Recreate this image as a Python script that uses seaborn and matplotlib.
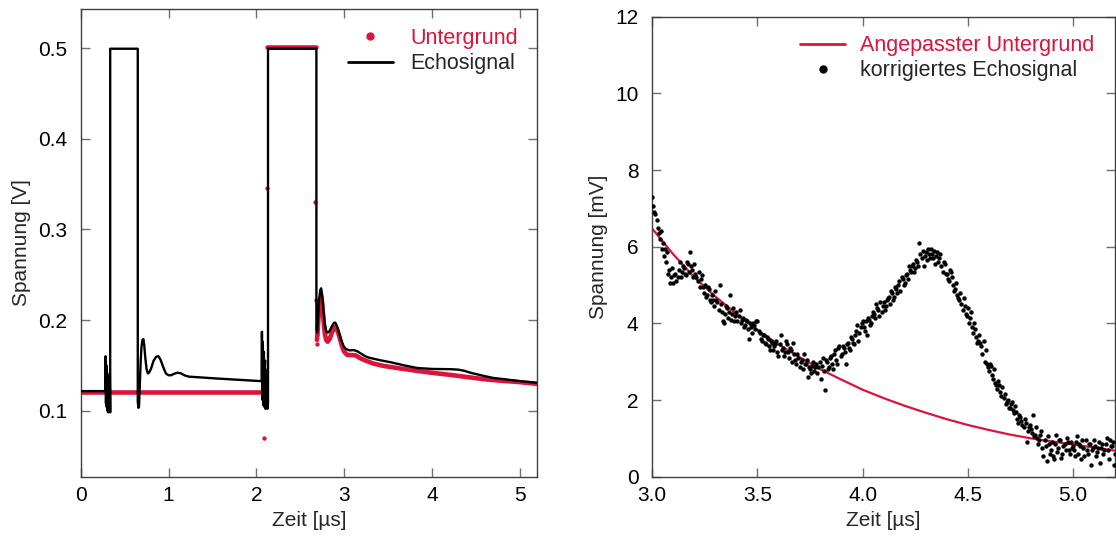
import numpy as np
import pandas as pd
import matplotlib
matplotlib.use("Agg")
import matplotlib.pyplot as plt
from matplotlib.lines import Line2D
import seaborn as sns

# ---------------- data: left panel ----------------
echo_t = [0.000, 0.280, 0.284, 0.288, 0.292, 0.296, 0.300, 0.304, 0.308, 0.312,
          0.316, 0.320, 0.324, 0.328, 0.332, 0.336, 0.336, 0.650, 0.650, 0.658,
          0.664, 0.672, 0.682, 0.692, 0.703, 0.714, 0.724, 0.736, 0.750, 0.765,
          0.780, 0.800, 0.830, 0.860, 0.886, 0.910, 0.940, 0.970, 1.000, 1.030,
          1.060, 1.100, 1.140, 1.180, 1.230, 1.570, 2.060, 2.064, 2.068, 2.074,
          2.080, 2.086, 2.092, 2.098, 2.104, 2.110, 2.116, 2.122, 2.128, 2.133,
          2.133, 2.684, 2.684, 2.692, 2.702, 2.715, 2.728, 2.738, 2.750, 2.765,
          2.780, 2.795, 2.813, 2.835, 2.860, 2.885, 2.900, 2.920, 2.945, 2.970,
          2.995, 3.020, 3.060, 3.110, 3.150, 3.190, 3.240, 3.280, 3.400, 3.528,
          3.680, 3.833, 4.000, 4.213, 4.300, 4.365, 4.450, 4.590, 4.700, 4.820,
          5.000, 5.200]
echo_v = [0.1215, 0.1215, 0.160, 0.108, 0.150, 0.104, 0.142, 0.100, 0.135, 0.098,
          0.130, 0.100, 0.125, 0.105, 0.140, 0.098, 0.4995, 0.4995, 0.110, 0.103,
          0.104, 0.125, 0.152, 0.170, 0.178, 0.179, 0.172, 0.158, 0.146, 0.141,
          0.142, 0.146, 0.155, 0.1595, 0.160, 0.156, 0.148, 0.141, 0.139, 0.139,
          0.1405, 0.1418, 0.1412, 0.139, 0.1375, 0.1353, 0.1325, 0.187, 0.112, 0.176,
          0.106, 0.165, 0.104, 0.155, 0.102, 0.145, 0.104, 0.135, 0.102, 0.110,
          0.4995, 0.4995, 0.190, 0.186, 0.200, 0.222, 0.233, 0.235, 0.228, 0.210,
          0.195, 0.188, 0.186, 0.188, 0.193, 0.197, 0.197, 0.193, 0.185, 0.177,
          0.171, 0.168, 0.1665, 0.1668, 0.1655, 0.1630, 0.160, 0.1585, 0.1558, 0.1534,
          0.150, 0.147, 0.146, 0.1457, 0.1452, 0.1440, 0.1415, 0.1383, 0.136, 0.1347,
          0.1325, 0.1306]

bg_base_t = [0.000, 2.080]
bg_base_v = [0.1205, 0.1205]
bg_top_t = [2.125, 2.675]
bg_top_v = [0.501, 0.501]
bg_tail_t = [2.690, 2.700, 2.712, 2.725, 2.738, 2.750, 2.765, 2.780, 2.795, 2.812,
             2.835, 2.860, 2.890, 2.905, 2.925, 2.950, 2.975, 3.000, 3.034, 3.090,
             3.130, 3.180, 3.224, 3.330, 3.450, 3.640, 3.833, 4.020, 4.213, 4.400,
             4.590, 4.780, 4.970, 5.200]
bg_tail_v = [0.178, 0.190, 0.210, 0.222, 0.226, 0.218, 0.200, 0.185, 0.178, 0.176,
             0.179, 0.186, 0.192, 0.192, 0.188, 0.180, 0.171, 0.165, 0.1615, 0.1612,
             0.1610, 0.158, 0.156, 0.152, 0.1493, 0.1465, 0.1438, 0.1415, 0.1394, 0.137,
             0.1347, 0.133, 0.1317, 0.1295]

bg_pts_t = [2.083, 2.086, 2.118, 2.673, 2.683, 2.686, 2.687]
bg_pts_v = [0.070, 0.155, 0.346, 0.330, 0.2225, 0.185, 0.174]

# ---------------- data: right panel ----------------
fit_t = [3.0, 3.1, 3.2, 3.3, 3.4, 3.5, 3.6, 3.7, 3.8, 3.9, 4.0, 4.1, 4.2,
         4.3, 4.4, 4.5, 4.6, 4.7, 4.8, 4.9, 5.0, 5.1, 5.2]
fit_v = [6.47, 5.80, 5.20, 4.70, 4.25, 3.83, 3.45, 3.12, 2.80, 2.53, 2.27, 2.05, 1.85,
         1.67, 1.50, 1.35, 1.22, 1.10, 1.00, 0.92, 0.84, 0.76, 0.68]

corr_t = [3.00, 3.01, 3.02, 3.03, 3.04, 3.05, 3.06, 3.07, 3.08, 3.09,
          3.10, 3.11, 3.12, 3.13, 3.14, 3.15, 3.16, 3.17, 3.18, 3.19,
          3.20, 3.21, 3.22, 3.23, 3.24, 3.25, 3.26, 3.27, 3.28, 3.29,
          3.30, 3.31, 3.32, 3.33, 3.34, 3.35, 3.36, 3.37, 3.38, 3.39,
          3.40, 3.41, 3.42, 3.43, 3.44, 3.45, 3.46, 3.47, 3.48, 3.49,
          3.50, 3.51, 3.52, 3.53, 3.54, 3.55, 3.56, 3.57, 3.58, 3.59,
          3.60, 3.61, 3.62, 3.63, 3.64, 3.65, 3.66, 3.67, 3.68, 3.69,
          3.70, 3.71, 3.72, 3.73, 3.74, 3.75, 3.76, 3.77, 3.78, 3.79,
          3.80, 3.81, 3.82, 3.83, 3.84, 3.85, 3.86, 3.87, 3.88, 3.89,
          3.90, 3.91, 3.92, 3.93, 3.94, 3.95, 3.96, 3.97, 3.98, 3.99,
          4.00, 4.01, 4.02, 4.03, 4.04, 4.05, 4.06, 4.07, 4.08, 4.09,
          4.10, 4.11, 4.12, 4.13, 4.14, 4.15, 4.16, 4.17, 4.18, 4.19,
          4.20, 4.21, 4.22, 4.23, 4.24, 4.25, 4.26, 4.27, 4.28, 4.29,
          4.30, 4.31, 4.32, 4.33, 4.34, 4.35, 4.36, 4.37, 4.38, 4.39,
          4.40, 4.41, 4.42, 4.43, 4.44, 4.45, 4.46, 4.47, 4.48, 4.49,
          4.50, 4.51, 4.52, 4.53, 4.54, 4.55, 4.56, 4.57, 4.58, 4.59,
          4.60, 4.61, 4.62, 4.63, 4.64, 4.65, 4.66, 4.67, 4.68, 4.69,
          4.70, 4.71, 4.72, 4.73, 4.74, 4.75, 4.76, 4.77, 4.78, 4.79,
          4.80, 4.81, 4.82, 4.83, 4.84, 4.85, 4.86, 4.87, 4.88, 4.89,
          4.90, 4.91, 4.92, 4.93, 4.94, 4.95, 4.96, 4.97, 4.98, 4.99,
          5.00, 5.01, 5.02, 5.03, 5.04, 5.05, 5.06, 5.07, 5.08, 5.09,
          5.10, 5.11, 5.12, 5.13, 5.14, 5.15, 5.16, 5.17, 5.18, 5.19,
          5.20]
corr_v = [7.30, 6.90, 6.70, 6.35, 6.40, 6.10, 5.95, 5.85, 5.40, 5.20,
          5.05, 5.30, 5.20, 5.60, 5.35, 5.45, 5.25, 5.55, 5.85, 5.40,
          5.55, 5.20, 5.35, 5.15, 4.95, 5.00, 4.75, 4.90, 4.55, 4.60,
          4.85, 4.55, 5.00, 4.30, 4.00, 4.45, 4.15, 4.75, 4.25, 4.05,
          4.30, 4.20, 4.00, 4.15, 3.95, 4.05, 3.60, 3.90, 4.00, 3.85,
          4.05, 3.75, 3.55, 3.70, 3.45, 3.60, 3.30, 3.50, 3.40, 3.55,
          3.15, 3.70, 3.35, 3.25, 3.45, 3.10, 3.30, 3.50, 3.05, 3.20,
          2.85, 3.05, 3.20, 2.95, 2.60, 2.80, 2.90, 2.75, 2.95, 2.85,
          2.55, 3.10, 2.25, 3.00, 2.85, 3.15, 2.80, 3.30, 2.95, 3.40,
          3.20, 3.35, 2.95, 3.50, 3.30, 3.60, 3.45, 3.80, 3.55, 3.90,
          4.05, 3.80, 3.70, 4.10, 4.00, 4.30, 4.15, 4.40, 4.20, 4.30,
          4.55, 4.45, 4.65, 4.50, 4.80, 4.70, 4.90, 5.00, 4.85, 5.15,
          5.05, 5.30, 5.50, 5.35, 5.55, 5.45, 5.60, 6.10, 5.70, 5.50,
          5.85, 5.95, 5.70, 5.80, 5.90, 5.75, 5.60, 5.80, 5.35, 5.55,
          5.30, 5.10, 5.35, 5.00, 4.90, 4.75, 4.60, 4.50, 4.65, 4.25,
          4.40, 4.15, 3.90, 4.00, 3.65, 3.55, 3.50, 3.20, 3.00, 2.95,
          2.75, 2.90, 2.55, 2.45, 2.30, 2.40, 2.10, 2.05, 1.90, 2.00,
          1.80, 1.95, 1.65, 1.70, 1.40, 1.55, 1.35, 1.50, 0.90, 1.30,
          1.25, 1.60, 1.10, 1.00, 0.95, 1.20, 0.55, 0.80, 1.05, 0.60,
          0.90, 0.45, 1.10, 0.75, 0.95, 0.60, 0.85, 1.00, 0.70, 0.90,
          0.80, 0.55, 1.05, 0.85, 0.45, 0.75, 0.95, 0.60, 0.85, 0.70,
          0.95, 0.55, 0.75, 0.35, 0.85, 0.70, 1.00, 0.45, 0.80, 0.90,
          0.60]

corr_t_b = [3.005, 3.015, 3.025, 3.035, 3.045, 3.055, 3.065, 3.075, 3.085, 3.095,
            3.105, 3.115, 3.125, 3.135, 3.145, 3.155, 3.165, 3.175, 3.185, 3.195,
            3.205, 3.215, 3.225, 3.235, 3.245, 3.255, 3.265, 3.275, 3.285, 3.295,
            3.305, 3.315, 3.325, 3.335, 3.345, 3.355, 3.365, 3.375, 3.385, 3.395,
            3.405, 3.415, 3.425, 3.435, 3.445, 3.455, 3.465, 3.475, 3.485, 3.495,
            3.505, 3.515, 3.525, 3.535, 3.545, 3.555, 3.565, 3.575, 3.585, 3.595,
            3.605, 3.615, 3.625, 3.635, 3.645, 3.655, 3.665, 3.675, 3.685, 3.695,
            3.705, 3.715, 3.725, 3.735, 3.745, 3.755, 3.765, 3.775, 3.785, 3.795,
            3.805, 3.815, 3.825, 3.835, 3.845, 3.855, 3.865, 3.875, 3.885, 3.895,
            3.905, 3.915, 3.925, 3.935, 3.945, 3.955, 3.965, 3.975, 3.985, 3.995,
            4.005, 4.015, 4.025, 4.035, 4.045, 4.055, 4.065, 4.075, 4.085, 4.095,
            4.105, 4.115, 4.125, 4.135, 4.145, 4.155, 4.165, 4.175, 4.185, 4.195,
            4.205, 4.215, 4.225, 4.235, 4.245, 4.255, 4.265, 4.275, 4.285, 4.295,
            4.305, 4.315, 4.325, 4.335, 4.345, 4.355, 4.365, 4.375, 4.385, 4.395,
            4.405, 4.415, 4.425, 4.435, 4.445, 4.455, 4.465, 4.475, 4.485, 4.495,
            4.505, 4.515, 4.525, 4.535, 4.545, 4.555, 4.565, 4.575, 4.585, 4.595,
            4.605, 4.615, 4.625, 4.635, 4.645, 4.655, 4.665, 4.675, 4.685, 4.695,
            4.705, 4.715, 4.725, 4.735, 4.745, 4.755, 4.765, 4.775, 4.785, 4.795,
            4.805, 4.815, 4.825, 4.835, 4.845, 4.855, 4.865, 4.875, 4.885, 4.895,
            4.905, 4.915, 4.925, 4.935, 4.945, 4.955, 4.965, 4.975, 4.985, 4.995,
            5.005, 5.015, 5.025, 5.035, 5.045, 5.055, 5.065, 5.075, 5.085, 5.095,
            5.105, 5.115, 5.125, 5.135, 5.145, 5.155, 5.165, 5.175, 5.185, 5.195]
corr_v_b = [7.05, 6.85, 6.50, 6.20, 5.95, 5.75, 5.60, 5.30, 5.05, 5.45,
            5.25, 5.10, 5.40, 5.20, 5.50, 5.30, 5.60, 5.35, 5.50, 5.20,
            5.30, 5.10, 4.95, 5.25, 4.80, 4.70, 4.95, 4.60, 4.75, 4.45,
            4.60, 4.35, 4.50, 4.05, 4.25, 4.40, 4.30, 4.10, 4.40, 4.20,
            4.05, 4.35, 4.10, 3.90, 4.10, 3.85, 4.00, 3.75, 3.95, 4.05,
            3.80, 3.60, 3.70, 3.50, 3.65, 3.40, 3.55, 3.30, 3.45, 3.25,
            3.45, 3.30, 3.15, 3.55, 3.25, 3.35, 3.00, 3.20, 2.95, 3.10,
            3.00, 2.80, 2.95, 3.05, 2.85, 2.70, 3.00, 2.85, 2.70, 3.00,
            2.90, 2.75, 3.05, 2.80, 3.10, 2.95, 3.20, 3.05, 3.35, 3.15,
            3.40, 3.25, 3.45, 3.35, 3.65, 3.50, 3.70, 3.95, 3.75, 4.00,
            3.90, 4.05, 4.15, 3.95, 4.20, 4.25, 4.50, 4.35, 4.55, 4.45,
            4.35, 4.60, 4.70, 4.85, 4.60, 4.95, 4.80, 5.10, 5.20, 5.00,
            5.25, 5.15, 5.40, 5.50, 5.35, 5.65, 5.50, 5.80, 5.90, 5.75,
            5.65, 5.80, 5.95, 5.70, 5.55, 5.85, 5.70, 5.50, 5.60, 5.30,
            5.15, 5.40, 5.20, 4.85, 5.05, 4.65, 4.80, 4.35, 4.45, 4.20,
            4.00, 4.30, 3.75, 3.85, 3.50, 3.70, 3.40, 3.55, 3.30, 2.85,
            2.95, 2.65, 2.80, 2.40, 2.50, 2.20, 2.35, 2.15, 1.95, 1.80,
            1.90, 1.75, 1.85, 1.50, 1.60, 1.45, 1.30, 1.40, 1.20, 1.35,
            1.15, 1.05, 1.30, 0.85, 1.10, 0.75, 0.95, 0.40, 0.85, 0.70,
            0.55, 0.85, 0.65, 0.95, 0.50, 0.80, 0.70, 0.90, 0.60, 0.75,
            0.70, 0.90, 0.60, 0.80, 0.95, 0.55, 0.70, 0.85, 0.30, 0.75,
            0.80, 0.65, 0.90, 0.75, 0.60, 0.85, 0.70, 0.95, 0.80, 0.30]

left_xticks = [0, 1, 2, 3, 4, 5]
left_yticks = [0.1, 0.2, 0.3, 0.4, 0.5]
right_xticks = [3.0, 3.5, 4.0, 4.5, 5.0]
right_yticks = [0, 2, 4, 6, 8, 10, 12]

RED = "#DC143C"

sns.set_theme(style="ticks")
plt.rcParams["font.family"] = ["Liberation Sans", "DejaVu Sans"]

fig = plt.figure(figsize=(11.16, 5.36), dpi=100)
ax1 = fig.add_axes([0.0723, 0.1106, 0.4092, 0.8720])
ax2 = fig.add_axes([0.5845, 0.1106, 0.4146, 0.8582])

FS = 15

# ---------- left panel ----------
df_bg = pd.concat([
    pd.DataFrame({"t": bg_base_t, "v": bg_base_v, "seg": 0}),
    pd.DataFrame({"t": bg_top_t, "v": bg_top_v, "seg": 1}),
    pd.DataFrame({"t": bg_tail_t, "v": bg_tail_v, "seg": 2}),
], ignore_index=True)
sns.lineplot(data=df_bg, x="t", y="v", units="seg", estimator=None, sort=False,
             color=RED, linewidth=3.3, ax=ax1, legend=False, zorder=2)
sns.scatterplot(x=bg_pts_t, y=bg_pts_v, color=RED, s=10, linewidth=0, ax=ax1,
                zorder=3, legend=False)
df_echo = pd.DataFrame({"t": echo_t, "v": echo_v})
sns.lineplot(data=df_echo, x="t", y="v", estimator=None, sort=False,
             color="black", linewidth=1.7, ax=ax1, legend=False, zorder=4)

ax1.set_xlim(0, 5.2)
ax1.set_ylim(0.027, 0.543)
ax1.set_xticks(left_xticks)
ax1.set_xticklabels([str(v) for v in left_xticks])
ax1.set_yticks(left_yticks)
ax1.set_yticklabels([f"{v:.1f}" for v in left_yticks])
ax1.set_xlabel("Zeit [µs]", fontsize=FS, labelpad=4)
ax1.set_ylabel("Spannung [V]", fontsize=FS, labelpad=5)

h1 = [Line2D([], [], marker="o", ls="none", color=RED, markersize=5),
      Line2D([], [], color="black", lw=2)]
leg1 = ax1.legend(h1, ["Untergrund", "Echosignal"], loc="upper left",
                  bbox_to_anchor=(0.585, 0.96), frameon=False, fontsize=15.5,
                  handlelength=2.1, handletextpad=0.8, labelspacing=0.2,
                  borderpad=0, borderaxespad=0)
leg1.get_texts()[0].set_color(RED)

# ---------- right panel ----------
sns.lineplot(x=fit_t, y=fit_v, color=RED, linewidth=1.6, ax=ax2, zorder=2)
corr_all_t = corr_t + corr_t_b
corr_all_v = corr_v + corr_v_b
sns.scatterplot(x=corr_all_t, y=corr_all_v, color="black", s=10, linewidth=0,
                ax=ax2, zorder=3, legend=False)
ax2.set_xlim(3.0, 5.2)
ax2.set_ylim(0, 12)
ax2.set_xticks(right_xticks)
ax2.set_xticklabels([f"{v:.1f}" for v in right_xticks])
ax2.set_yticks(right_yticks)
ax2.set_yticklabels([str(v) for v in right_yticks])
ax2.set_xlabel("Zeit [µs]", fontsize=FS, labelpad=4)
ax2.set_ylabel("Spannung [mV]", fontsize=FS, labelpad=5)

h2 = [Line2D([], [], color=RED, lw=2),
      Line2D([], [], marker="o", ls="none", color="black", markersize=5)]
leg2 = ax2.legend(h2, ["Angepasster Untergrund", "korrigiertes Echosignal"],
                  loc="upper left", bbox_to_anchor=(0.319, 0.96), frameon=False,
                  fontsize=15.5, handlelength=2.1, handletextpad=0.7,
                  labelspacing=0.2, borderpad=0, borderaxespad=0)
leg2.get_texts()[0].set_color(RED)

for ax in (ax1, ax2):
    for sp in ax.spines.values():
        sp.set_visible(True)
        sp.set_color("#404040")
        sp.set_linewidth(1.0)
    ax.tick_params(axis="both", which="major", direction="in", length=6.5,
                   width=1.0, color="#707070", top=True, right=True,
                   labelsize=FS, labelcolor="black")
    ax.tick_params(axis="x", pad=7)
    ax.tick_params(axis="y", pad=10)

fig.savefig("out.png", dpi=100)
